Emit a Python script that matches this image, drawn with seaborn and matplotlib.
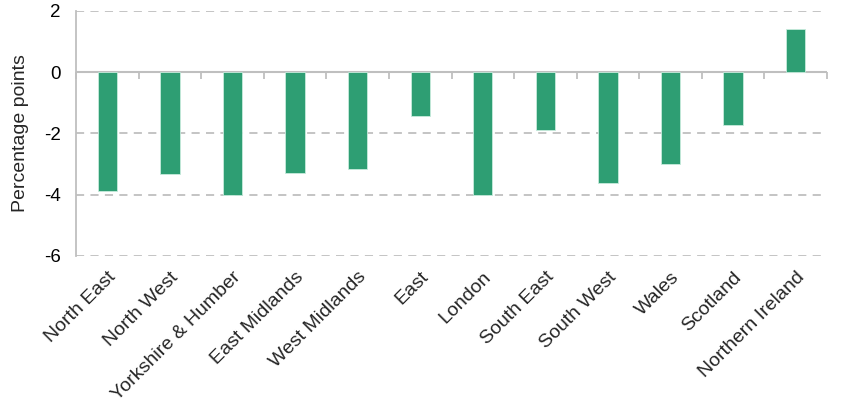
import matplotlib
matplotlib.use("Agg")
import matplotlib.pyplot as plt
import seaborn as sns
import pandas as pd
import numpy as np

regions = ["North East", "North West", "Yorkshire & Humber", "East Midlands",
           "West Midlands", "East", "London", "South East", "South West",
           "Wales", "Scotland", "Northern Ireland"]
values = [-3.88, -3.33, -4.02, -3.28, -3.16, -1.42, -4.00, -1.90, -3.62,
          -3.01, -1.72, 1.41]
yticks = [-6, -4, -2, 0, 2]

sns.set_style("white")
plt.rcParams['font.family'] = ['Liberation Sans', 'DejaVu Sans']
plt.rcParams['axes.unicode_minus'] = False

df = pd.DataFrame({"region": regions, "value": values})

fig = plt.figure(figsize=(8.48, 4.08), dpi=100)
ax = fig.add_axes([76/848, 1-256/408, (827-76)/848, (256-10.7)/408])

grey = "#BFBFBF"
sns.barplot(data=df, x="region", y="value", color="#2E9E73", width=0.31,
            edgecolor="#C8EBDD", linewidth=0.6, saturation=1, ax=ax, zorder=3)

ax.set_xlim(-0.5, len(regions) - 0.5)
ax.set_ylim(-6, 2)
ax.set_yticks(yticks)
ax.set_yticklabels([str(t) for t in yticks], fontsize=13.5)
for t in yticks:
    if t != 0:
        ax.axhline(t, color=grey, linestyle=(0, (4.5, 3.5)), linewidth=1.3, zorder=1)
ax.axhline(0, color=grey, linewidth=1.5, zorder=2)

for s in ["top", "right", "bottom"]:
    ax.spines[s].set_visible(False)
ax.spines["left"].set_color(grey)
ax.spines["left"].set_linewidth(1.3)
ax.tick_params(axis="y", length=6, width=1.3, color=grey, pad=5, labelcolor="black")

ax.set_xlabel("")
ax.set_ylabel("Percentage points", fontsize=14, labelpad=11)
ax.set_xticks(range(len(regions)))
ax.set_xticklabels(regions, rotation=45, ha="right", rotation_mode="anchor", fontsize=14)
ax.tick_params(axis="x", length=0, pad=9)

sec = ax.secondary_xaxis(0.75)
sec.set_xticks(np.arange(-0.5, len(regions), 1.0))
sec.set_xticklabels([])
for s in sec.spines.values():
    s.set_visible(False)
sec.tick_params(axis="both", length=5, width=1.3, color=grey, direction="in")

fig.savefig("out.png", dpi=100)
